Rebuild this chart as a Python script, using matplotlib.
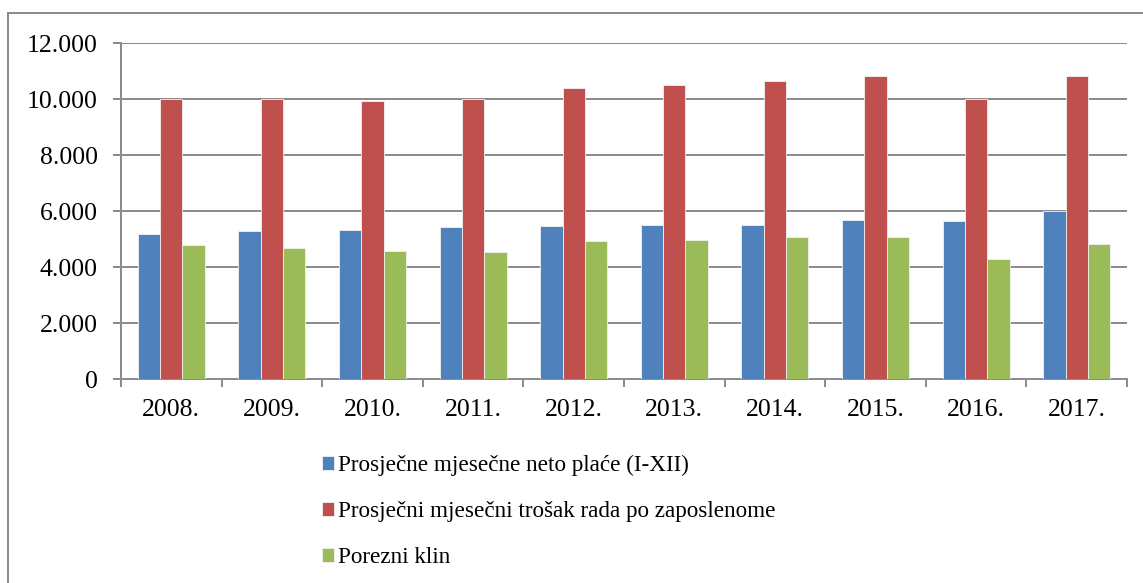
import matplotlib
matplotlib.use("Agg")
import matplotlib.pyplot as plt
from matplotlib.patches import Rectangle
from matplotlib.font_manager import FontProperties
import numpy as np

years = ["2008.", "2009.", "2010.", "2011.", "2012.", "2013.", "2014.", "2015.", "2016.", "2017."]
neto = [5168, 5298, 5321, 5429, 5464, 5488, 5512, 5690, 5655, 5988]
trosak = [10000, 10000, 9929, 10000, 10405, 10488, 10631, 10821, 10000, 10821]
klin = [4786, 4667, 4583, 4524, 4929, 4964, 5083, 5083, 4286, 4821]
labels = ["Prosječne mjesečne neto plaće (I-XII)",
          "Prosječni mjesečni trošak rada po zaposlenome",
          "Porezni klin"]
colors = ["#4F81BD", "#C0504D", "#9BBB59"]
yticks = [0, 2000, 4000, 6000, 8000, 10000, 12000]
ytick_labels = ["0", "2.000", "4.000", "6.000", "8.000", "10.000", "12.000"]

plt.rcParams['font.family'] = ['Liberation Serif', 'DejaVu Serif']
fam = ['Liberation Serif', 'DejaVu Serif']
fp_tick = FontProperties(family=fam, size=18.5)
fp_leg = FontProperties(family=fam, size=16.7)

W, H = 1143, 583
PT = 0.72  # points per pixel at dpi 100
fig = plt.figure(figsize=(W / 100, H / 100), dpi=100)
ax = fig.add_axes([121 / W, 1 - 379 / H, (1127 - 121) / W, (379 - 43) / H])

x = np.arange(len(years))
bw = 0.222
grid_c = "#8C8C8C"
lw = 2 * PT
for i, (vals, c, lab) in enumerate(zip([neto, trosak, klin], colors, labels)):
    ax.bar(x + (i - 1) * bw, vals, width=bw, color=c, label=lab,
           edgecolor="#F2F2F2", linewidth=0.6, zorder=3)

ax.set_xlim(-0.5, len(years) - 0.5)
ax.set_ylim(0, 12000)
ax.set_yticks(yticks)
ax.set_yticklabels(ytick_labels, fontproperties=fp_tick)
ax.yaxis.grid(True, color=grid_c, linewidth=lw, zorder=0)
ax.set_axisbelow(True)
ax.set_xticks(np.arange(len(years) + 1) - 0.5, minor=False)
ax.set_xticklabels([""] * (len(years) + 1))
ax.set_xticks(x, minor=True)
ax.set_xticklabels(years, minor=True, fontproperties=fp_tick)
ax.tick_params(axis='x', which='minor', length=0, pad=20 * PT)
ax.tick_params(axis='x', which='major', length=8 * PT, width=lw, color=grid_c, direction='out')
ax.tick_params(axis='y', length=8 * PT, width=lw, color=grid_c, pad=15 * PT)
for s in ["top", "right"]:
    ax.spines[s].set_visible(False)
for s in ["left", "bottom"]:
    ax.spines[s].set_color(grid_c)
    ax.spines[s].set_linewidth(lw)

leg = fig.legend(loc="upper left", bbox_to_anchor=(322 / W, 1 - 455 / H),
                 frameon=False, prop=fp_leg, handlelength=0.52, handleheight=0.52,
                 handletextpad=0.17, labelspacing=1.08, borderpad=0, borderaxespad=0)

fig.add_artist(Rectangle((8 / W, -0.1), 1.2, (H - 13) / H + 0.1, transform=fig.transFigure,
                         fill=False, edgecolor=grid_c, linewidth=lw))

fig.savefig("out.png", dpi=100, facecolor="white")
